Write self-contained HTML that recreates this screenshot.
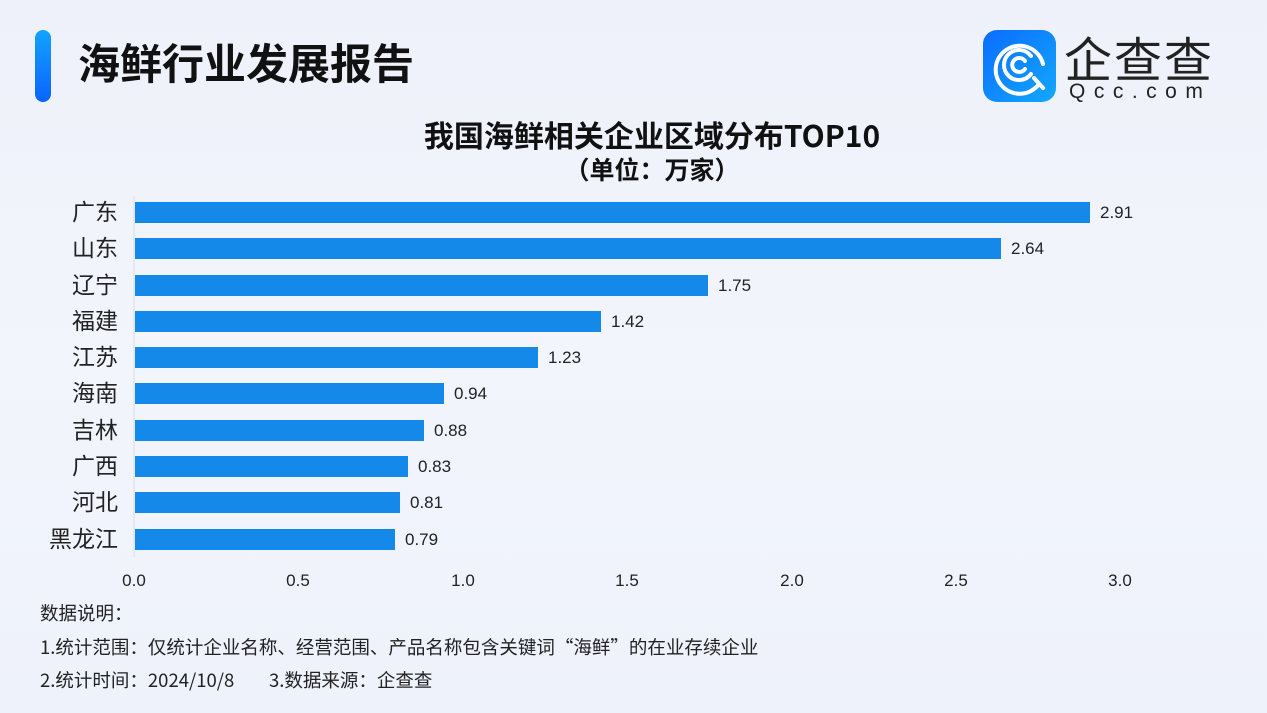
<!DOCTYPE html>
<html><head><meta charset="utf-8"><style>
body{margin:0;width:1267px;height:713px;overflow:hidden;background:linear-gradient(180deg,#eef1fa 0%,#f3f5fc 50%,#eef2fb 100%);font-family:"Liberation Sans","Noto Sans CJK SC",sans-serif;}
</style></head><body>
<svg width="1267" height="713" xmlns="http://www.w3.org/2000/svg" style="position:absolute;left:0;top:0">
<defs>
<linearGradient id="g1" x1="0" y1="0" x2="0" y2="1"><stop offset="0" stop-color="#12a3ff"/><stop offset="1" stop-color="#0a63ff"/></linearGradient>
<linearGradient id="g2" x1="0" y1="0" x2="1" y2="1"><stop offset="0" stop-color="#0a6cff"/><stop offset="1" stop-color="#13a8ff"/></linearGradient>
</defs>
<rect x="35" y="30" width="16" height="72" rx="8" fill="url(#g1)"/>
<text x="78" y="79" font-size="42" font-weight="bold" fill="#111" font-family="Noto Sans CJK SC,sans-serif">海鲜行业发展报告</text>
<rect x="983" y="30" width="73" height="72" rx="14" fill="url(#g2)"/>
<g fill="none" stroke="#fff" stroke-width="4" stroke-linecap="round">
<path d="M1039 84 A24 24 0 1 1 1043 64"/>
<path d="M1031 74 A15 15 0 1 1 1031 56"/>
<path d="M1025 69 A7 7 0 1 1 1025 61"/>
<path d="M1034 78 L1043 88"/>
</g>
<text x="1064" y="77" font-size="48" fill="#222" font-family="Noto Sans CJK SC,sans-serif" letter-spacing="2">企查查</text>
<text x="1069" y="98" font-size="21" fill="#222" letter-spacing="8.5">Qcc.com</text>
<text x="652" y="147" font-size="30" font-weight="bold" fill="#111" text-anchor="middle" font-family="Noto Sans CJK SC,sans-serif">我国海鲜相关企业区域分布TOP10</text>
<text x="652" y="179" font-size="25" font-weight="bold" fill="#111" text-anchor="middle" font-family="Noto Sans CJK SC,sans-serif">（单位：万家）</text>
<line x1="134" y1="196" x2="134" y2="557" stroke="#d8dce6" stroke-width="1"/>
<g fill="#1589ea">
<rect x="135" y="202" width="955" height="21"/>
<rect x="135" y="238" width="866" height="21"/>
<rect x="135" y="275" width="573" height="21"/>
<rect x="135" y="311" width="466" height="21"/>
<rect x="135" y="347" width="403" height="21"/>
<rect x="135" y="383" width="309" height="21"/>
<rect x="135" y="420" width="289" height="21"/>
<rect x="135" y="456" width="273" height="21"/>
<rect x="135" y="492" width="265" height="21"/>
<rect x="135" y="529" width="260" height="21"/>
</g>
<g font-size="23" fill="#222" text-anchor="end" font-family="Noto Sans CJK SC,sans-serif">
<text x="118" y="220">广东</text><text x="118" y="256">山东</text><text x="118" y="293">辽宁</text><text x="118" y="329">福建</text><text x="118" y="365">江苏</text><text x="118" y="401">海南</text><text x="118" y="438">吉林</text><text x="118" y="474">广西</text><text x="118" y="510">河北</text><text x="118" y="547">黑龙江</text>
</g>
<g font-size="17" fill="#222">
<text x="1100" y="218">2.91</text><text x="1011" y="254">2.64</text><text x="718" y="291">1.75</text><text x="611" y="327">1.42</text><text x="548" y="363">1.23</text><text x="454" y="399">0.94</text><text x="434" y="436">0.88</text><text x="418" y="472">0.83</text><text x="410" y="508">0.81</text><text x="405" y="545">0.79</text>
</g>
<g font-size="17" fill="#222" text-anchor="middle">
<text x="134" y="586">0.0</text><text x="298" y="586">0.5</text><text x="463" y="586">1.0</text><text x="627" y="586">1.5</text><text x="792" y="586">2.0</text><text x="956" y="586">2.5</text><text x="1120" y="586">3.0</text>
</g>
<g font-size="18.5" fill="#222" font-family="Noto Sans CJK SC,sans-serif">
<text x="40" y="620">数据说明：</text>
<text x="40" y="654">1.统计范围：仅统计企业名称、经营范围、产品名称包含关键词“海鲜”的在业存续企业</text>
<text x="40" y="687">2.统计时间：2024/10/8<tspan x="269">3.数据来源：企查查</tspan></text>
</g>
</svg>
</body></html>
